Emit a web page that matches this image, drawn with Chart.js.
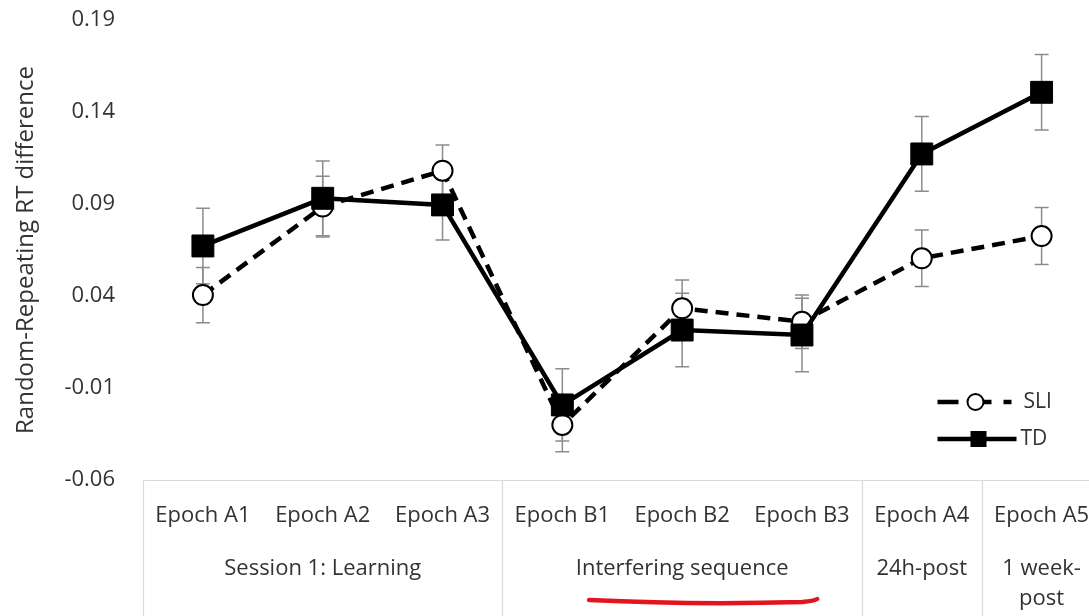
<!DOCTYPE html>
<html>
<head>
<meta charset="utf-8">
<script src="https://cdn.jsdelivr.net/npm/chart.js@4/dist/chart.umd.min.js"></script>
<style>
html, body { margin: 0; padding: 0; overflow: hidden; background: #fff; width: 1089px; height: 616px; }
#wrap { position: absolute; left: 0; top: 0; width: 1118px; height: 616px; }
</style>
</head>
<body>
<div id="wrap"><canvas id="c" width="1118" height="616"></canvas></div>
<script>
const categories = ['Epoch A1', 'Epoch A2', 'Epoch A3', 'Epoch B1', 'Epoch B2', 'Epoch B3', 'Epoch A4', 'Epoch A5'];
const groupLabels = [['Session 1: Learning'], ['Interfering sequence'], ['24h-post'], ['1 week-', 'post']];
const groupSizes = [3, 3, 1, 1];
const sliValues = [0.0405, 0.0886, 0.1081, -0.0301, 0.0333, 0.0260, 0.0605, 0.0726];
const sliErrors = [0.0150, 0.0165, 0.0140, 0.0145, 0.0154, 0.0145, 0.0154, 0.0155];
const tdValues = [0.0672, 0.0931, 0.0895, -0.0192, 0.0215, 0.0188, 0.1172, 0.1507];
const tdErrors = [0.0205, 0.0203, 0.0190, 0.0196, 0.0200, 0.0200, 0.0203, 0.0205];
const yTicks = [-0.06, -0.01, 0.04, 0.09, 0.14, 0.19];
const yTitle = 'Random-Repeating RT difference';
const seriesNames = ['SLI', 'TD'];

const FONT = '"Open Sans", "DejaVu Sans", sans-serif';
const TEXT = '#333333';

const errorBars = {
  id: 'errorBars',
  beforeDatasetsDraw(chart) {
    const ctx = chart.ctx, y = chart.scales.y;
    const errs = [sliErrors, tdErrors];
    ctx.save();
    ctx.strokeStyle = '#8c8c8c';
    ctx.lineWidth = 1.5;
    chart.data.datasets.forEach((ds, di) => {
      const meta = chart.getDatasetMeta(di);
      meta.data.forEach((pt, i) => {
        const v = ds.data[i], e = errs[di][i];
        const yt = y.getPixelForValue(v + e), yb = y.getPixelForValue(v - e);
        ctx.beginPath();
        ctx.moveTo(pt.x, yt); ctx.lineTo(pt.x, yb);
        ctx.moveTo(pt.x - 7, yt); ctx.lineTo(pt.x + 7, yt);
        ctx.moveTo(pt.x - 7, yb); ctx.lineTo(pt.x + 7, yb);
        ctx.stroke();
      });
    });
    ctx.restore();
  }
};

const tableAndLabels = {
  id: 'tableAndLabels',
  afterDraw(chart) {
    const ctx = chart.ctx, x = chart.scales.x, area = chart.chartArea;
    const H = chart.height;
    const half = (x.getPixelForValue(1) - x.getPixelForValue(0)) / 2;
    ctx.save();
    ctx.strokeStyle = '#d9d9d9';
    ctx.lineWidth = 1.2;
    ctx.beginPath();
    ctx.moveTo(area.left, area.bottom + 0.5);
    ctx.lineTo(area.right, area.bottom + 0.5);
    let idx = 0;
    const bounds = [x.getPixelForValue(0) - half];
    groupSizes.forEach(n => { idx += n; bounds.push(x.getPixelForValue(idx - 1) + half); });
    bounds.forEach(b => { ctx.moveTo(Math.round(b) + 0.5, area.bottom); ctx.lineTo(Math.round(b) + 0.5, H); });
    ctx.stroke();

    ctx.fillStyle = TEXT;
    ctx.font = '22px ' + FONT;
    ctx.textAlign = 'center';
    ctx.textBaseline = 'middle';
    const centers = [];
    for (let g = 0; g < groupLabels.length; g++) {
      const cx = (bounds[g] + bounds[g + 1]) / 2;
      centers.push(cx);
      groupLabels[g].forEach((line, li) => ctx.fillText(line, cx, area.bottom + 89 + li * 30));
    }
    // red hand-drawn underline beneath the second group label
    const c = centers[1];
    const yl = area.bottom + 121;
    ctx.strokeStyle = '#e3141e';
    ctx.lineWidth = 4.5;
    ctx.lineCap = 'round';
    ctx.beginPath();
    ctx.moveTo(c - 93, yl - 1);
    ctx.quadraticCurveTo(c + 10, yl + 4, c + 120, yl + 1);
    ctx.quadraticCurveTo(c + 132, yl, c + 135, yl - 2);
    ctx.stroke();
    ctx.restore();
  }
};

const customLegend = {
  id: 'customLegend',
  afterDraw(chart) {
    const ctx = chart.ctx, area = chart.chartArea;
    const x0 = area.right - 164;
    ctx.save();
    // SLI
    let yy = area.bottom - 78;
    ctx.strokeStyle = '#000';
    ctx.lineWidth = 4.5;
    ctx.setLineDash([21, 12]);
    ctx.beginPath(); ctx.moveTo(x0, yy); ctx.lineTo(x0 + 74, yy); ctx.stroke();
    ctx.setLineDash([]);
    ctx.fillStyle = '#fff'; ctx.lineWidth = 2;
    ctx.beginPath(); ctx.arc(x0 + 38, yy, 8, 0, Math.PI * 2); ctx.fill(); ctx.stroke();
    ctx.fillStyle = TEXT;
    ctx.font = '21px ' + FONT;
    ctx.textBaseline = 'middle';
    ctx.textAlign = 'left';
    ctx.fillText(seriesNames[0], x0 + 86, yy);
    // TD
    yy = area.bottom - 41;
    ctx.lineWidth = 4.5;
    ctx.beginPath(); ctx.moveTo(x0, yy); ctx.lineTo(x0 + 79, yy); ctx.stroke();
    ctx.fillStyle = '#000';
    ctx.fillRect(x0 + 33, yy - 8, 16, 16);
    ctx.fillStyle = TEXT;
    ctx.fillText(seriesNames[1], x0 + 83, yy);
    ctx.restore();
  }
};

new Chart(document.getElementById('c'), {
  type: 'line',
  data: {
    labels: categories,
    datasets: [
      {
        label: seriesNames[0], data: sliValues, order: 1,
        borderColor: '#000', borderWidth: 4.5, borderDash: [13, 8],
        pointStyle: 'circle', pointRadius: 10, pointBorderWidth: 2,
        pointBackgroundColor: '#fff', pointBorderColor: '#000', tension: 0
      },
      {
        label: seriesNames[1], data: tdValues, order: 0,
        borderColor: '#000', borderWidth: 4.5,
        pointStyle: 'rect', pointRadius: 15.5, pointBorderWidth: 1,
        pointBackgroundColor: '#000', pointBorderColor: '#000', tension: 0
      }
    ]
  },
  options: {
    responsive: false,
    animation: false,
    layout: { padding: { top: 20, right: 7, bottom: 0, left: 0 } },
    plugins: { legend: { display: false }, tooltip: { enabled: false } },
    scales: {
      x: {
        offset: true,
        grid: { display: false, drawTicks: false },
        border: { display: false },
        ticks: { autoSkip: false, maxRotation: 0, padding: 23, color: TEXT, font: { family: FONT, size: 22 } },
        afterFit(s) { s.height = 136; s.paddingLeft = 0; s.paddingRight = 0; }
      },
      y: {
        min: -0.06, max: 0.19,
        grid: { display: false, drawTicks: false },
        border: { display: false },
        afterBuildTicks(s) { s.ticks = yTicks.map(v => ({ value: v })); },
        ticks: { padding: 28, color: TEXT, font: { family: FONT, size: 22 }, callback: v => Number(v).toFixed(2) },
        title: { display: true, text: yTitle, color: TEXT, font: { family: FONT, size: 24 }, padding: { top: 12, bottom: 0 } },
        afterFit(s) { s.width = 143; s.paddingTop = 0; s.paddingBottom = 0; }
      }
    }
  },
  plugins: [errorBars, tableAndLabels, customLegend]
});
</script>
</body>
</html>
